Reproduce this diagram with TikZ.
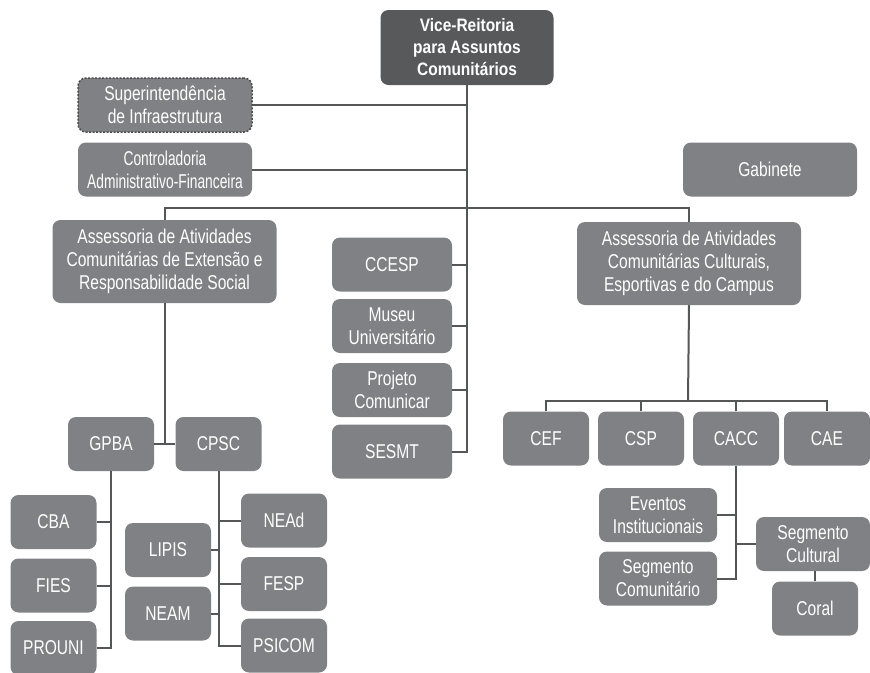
\documentclass[tikz,border=0pt]{standalone}
\usepackage{fontspec}
\setmainfont{Liberation Sans}[FakeStretch=0.78]
\newfontfamily\narrowfont{Liberation Sans}[FakeStretch=0.69]
\newfontfamily\headfont{Liberation Sans}[FakeStretch=0.86]
\usepackage{tikz}
\definecolor{unitGray}{RGB}{128,129,132}
\definecolor{headGray}{RGB}{88,89,91}
\definecolor{lineGray}{RGB}{85,86,88}

\begin{document}
\begin{tikzpicture}[x=1pt,y=-1pt,
    unit/.style={rounded corners=8pt,fill=unitGray,text=white,align=center,
                 font=\fontsize{20}{23}\selectfont,inner sep=0pt,
                 minimum height=54pt},
    small/.style={unit,minimum width=86pt},
    mid/.style={unit,minimum width=120pt},
    wide/.style={unit,minimum width=174pt},
    head/.style={unit,fill=headGray,font=\headfont\bfseries\fontsize{18}{22}\selectfont},
    planned/.style={wide,draw=black!70,line width=1.5pt,dash pattern=on 2pt off 1.5pt},
    link/.style={draw=lineGray,line width=2pt}
]
\useasboundingbox (0,0) rectangle (870,672);

\node[head,minimum width=173pt,minimum height=75pt] (vice) at (467,47.5) {Vice-Reitoria\\para Assuntos\\Comunitários};
\node[planned] (infra) at (165,105) {Superintendência\\de Infraestrutura};
\node[wide,font=\narrowfont\fontsize{20}{23}\selectfont] (ctrl) at (165,169.5) {Controladoria\\Administrativo-Financeira};
\node[wide] (gab) at (770,169.5) {Gabinete};

\node[unit,minimum width=224pt,minimum height=83pt] (extL) at (164.5,261.5) {Assessoria de Atividades\\Comunitárias de Extensão e\\Responsabilidade Social};
\node[unit,minimum width=224pt,minimum height=83pt] (cultR) at (689,263.5) {Assessoria de Atividades\\Comunitárias Culturais,\\Esportivas e do Campus};

\node[mid] (ccesp) at (392,264.5) {CCESP};
\node[mid] (museu) at (392,326) {Museu\\Universitário};
\node[mid] (projeto) at (392,390) {Projeto\\Comunicar};
\node[mid] (sesmt) at (392,451.5) {SESMT};

\node[small] (gpba) at (111,444) {GPBA};
\node[small] (cpsc) at (218.5,444) {CPSC};
\node[small] (cba) at (53.5,522) {CBA};
\node[small] (fies) at (53.5,585.5) {FIES};
\node[small] (prouni) at (53.5,648) {PROUNI};
\node[small] (lipis) at (168,550) {LIPIS};
\node[small] (neam) at (168,613.5) {NEAM};
\node[small] (nead) at (284,520.5) {NEAd};
\node[small] (fesp) at (284,584) {FESP};
\node[small] (psicom) at (284,645.5) {PSICOM};

\node[small] (cef) at (546,438.5) {CEF};
\node[small] (csp) at (641,438.5) {CSP};
\node[small] (cacc) at (736,438.5) {CACC};
\node[small] (cae) at (827,438.5) {CAE};
\node[unit,minimum width=118pt] (eventos) at (658,515) {Eventos\\Institucionais};
\node[unit,minimum width=118pt] (segcom) at (658,578.5) {Segmento\\Comunitário};
\node[unit,minimum width=114pt] (segcul) at (813,544) {Segmento\\Cultural};
\node[small] (coral) at (815,608.5) {Coral};

\coordinate (split) at (467,208);
\coordinate (busR) at (688,401);

\draw[link] (vice.south) -- (vice.south |- sesmt.east) -- (sesmt.east);
\draw[link] (infra.east) -- (infra.east -| vice.south);
\draw[link] (ctrl.east) -- (ctrl.east -| vice.south);
\draw[link] (extL.north) |- (split) -| (cultR.north);
\draw[link] (ccesp.east) -- (ccesp.east -| vice.south);
\draw[link] (museu.east) -- (museu.east -| vice.south);
\draw[link] (projeto.east) -- (projeto.east -| vice.south);

\draw[link] (extL.south) -- (extL.south |- gpba.east);
\draw[link] (gpba.east) -- (cpsc.west);
\draw[link] (gpba.south) |- (prouni.east);
\draw[link] (cba.east) -- (cba.east -| gpba.south);
\draw[link] (fies.east) -- (fies.east -| gpba.south);
\draw[link] (cpsc.south) |- (psicom.west);
\draw[link] (nead.west) -- (nead.west -| cpsc.south);
\draw[link] (fesp.west) -- (fesp.west -| cpsc.south);
\draw[link] (lipis.east) -- (lipis.east -| cpsc.south);
\draw[link] (neam.east) -- (neam.east -| cpsc.south);

\draw[link] (cultR.south) -- (busR);
\draw[link] (cef.north) |- (busR) -| (cae.north);
\draw[link] (csp.north) -- (csp.north |- busR);
\draw[link] (cacc.north) -- (cacc.north |- busR);
\draw[link] (cacc.south) |- (segcom.east);
\draw[link] (eventos.east) -- (eventos.east -| cacc.south);
\draw[link] (segcul.west) -- (segcul.west -| cacc.south);
\draw[link] (segcul.south -| coral.north) -- (coral.north);
\end{tikzpicture}
\end{document}
